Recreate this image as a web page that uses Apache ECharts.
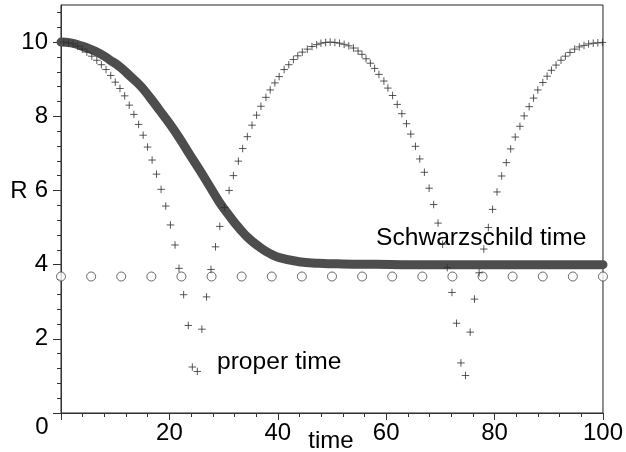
<!DOCTYPE html>
<html>
<head>
<meta charset="utf-8">
<script src="https://cdn.jsdelivr.net/npm/echarts@6/dist/echarts.min.js"></script>
<style>
  html, body { margin: 0; padding: 0; background: #fff; }
  #chart { width: 626px; height: 452px; }
</style>
</head>
<body>
<div id="chart"></div>
<script>
// Schwarzschild time curve (thick line)
const schwT = [0, 1.8, 3.5, 5.4, 7.2, 9.0, 10.9, 12.7, 14.6, 16.4, 18.2, 20.1, 21.9, 23.7, 25.6, 27.4,
  29.2, 31.1, 32.9, 34.7, 36.6, 38.4, 40.3, 43.9, 47.6, 52, 58, 65, 75, 85, 100];
const schwR = [10, 9.98, 9.91, 9.81, 9.69, 9.52, 9.33, 9.09, 8.83, 8.51, 8.16, 7.79, 7.40, 6.98, 6.55, 6.12,
  5.69, 5.31, 4.98, 4.70, 4.48, 4.31, 4.19, 4.08, 4.04, 4.02, 4.01, 4.0, 4.0, 4.0, 4.0];

// proper time points (crosses)
const properT = [0.52, 1.37, 2.22, 3.07, 3.92, 4.77, 5.69, 6.61, 7.45, 8.31,
  9.18, 10.02, 10.88, 11.75, 12.59, 13.45, 14.32, 15.16, 15.97, 16.81,
  17.62, 18.47, 19.33, 20.19, 21.04, 21.77, 22.63, 23.49, 24.23, 25.15,
  25.99, 26.85, 27.68, 28.51, 29.30, 30.16, 31.02, 31.81, 32.73, 33.52,
  34.38, 35.24, 36.09, 36.89, 37.81, 38.60, 39.46, 40.25, 41.17, 42.03,
  42.88, 43.69, 44.53, 45.45, 46.31, 47.17, 47.96, 48.83, 49.67, 50.53,
  51.40, 52.24, 53.10, 53.96, 54.81, 55.54, 56.28, 57.08, 57.87, 58.66,
  59.58, 60.32, 61.18, 62.04, 62.89, 63.75, 64.54, 65.40, 66.19, 67.05,
  67.92, 68.76, 69.57, 70.41, 71.27, 72.14, 72.98, 73.79, 74.63, 75.50,
  76.29, 77.15, 78.01, 78.85, 79.63, 80.45, 81.31, 82.16, 82.97, 83.81,
  84.68, 85.46, 86.38, 87.19, 87.98, 88.90, 89.69, 90.49, 91.34, 92.26,
  93.06, 93.91, 94.77, 95.63, 96.50, 97.35, 98.20, 99.05, 99.90];
const properR = [10.0, 9.98, 9.95, 9.89, 9.81, 9.73, 9.62, 9.51, 9.39, 9.26,
  9.10, 8.92, 8.75, 8.55, 8.30, 8.05, 7.78, 7.49, 7.17, 6.82,
  6.44, 6.03, 5.58, 5.07, 4.53, 3.90, 3.19, 2.36, 1.24, 1.12,
  2.26, 3.13, 3.87, 4.48, 5.03, 5.54, 6.00, 6.40, 6.79, 7.13,
  7.45, 7.76, 8.03, 8.27, 8.51, 8.71, 8.90, 9.07, 9.26, 9.39,
  9.53, 9.63, 9.73, 9.81, 9.88, 9.93, 9.97, 9.99, 10.0, 9.99,
  9.97, 9.94, 9.90, 9.84, 9.76, 9.67, 9.55, 9.43, 9.29, 9.13,
  8.95, 8.76, 8.56, 8.32, 8.07, 7.80, 7.52, 7.19, 6.85, 6.49,
  6.06, 5.62, 5.12, 4.55, 3.92, 3.25, 2.42, 1.35, 1.01, 2.18,
  3.07, 3.78, 4.42, 5.00, 5.49, 5.96, 6.39, 6.75, 7.12, 7.44,
  7.73, 8.01, 8.26, 8.49, 8.71, 8.91, 9.08, 9.24, 9.38, 9.51,
  9.62, 9.72, 9.81, 9.87, 9.91, 9.95, 9.97, 9.98, 9.99];

// horizon markers (circles)
const circleT = [0, 5.56, 11.11, 16.67, 22.22, 27.78, 33.33, 38.89, 44.44, 50,
  55.56, 61.11, 66.67, 72.22, 77.78, 83.33, 88.89, 94.44, 100];
const circleR = [3.68, 3.68, 3.68, 3.68, 3.68, 3.68, 3.68, 3.68, 3.68, 3.68,
  3.68, 3.68, 3.68, 3.68, 3.68, 3.68, 3.68, 3.68, 3.68];

const yLabels = [2, 4, 6, 8, 10];
const yMajorTicks = [0, 2, 4, 6, 8, 10];

const FONT = '"Liberation Sans", Arial, Helvetica, sans-serif';

function pairs(xs, ys) {
    return xs.map((x, i) => [x, ys[i]]);
}

const chart = echarts.init(document.getElementById('chart'), null, { renderer: 'canvas' });

const option = {
    animation: false,
    backgroundColor: '#fff',
    grid: {
        left: 61, right: 20, top: 5, bottom: 39,
        show: true, borderColor: '#222', borderWidth: 1, backgroundColor: 'transparent'
    },
    xAxis: {
        type: 'value', min: 0, max: 100, interval: 20,
        axisLine: { show: true, lineStyle: { color: '#333', width: 1 } },
        axisTick: { show: true, length: 7, lineStyle: { color: '#333' } },
        minorTick: { show: true, splitNumber: 5, length: 4, lineStyle: { color: '#333' } },
        splitLine: { show: false },
        axisLabel: {
            color: '#000', fontSize: 24, fontFamily: FONT, margin: 8,
            formatter: v => (v === 0 ? '' : String(v))
        }
    },
    yAxis: {
        type: 'value', min: 0, max: 11, interval: 2,
        axisLine: { show: true, lineStyle: { color: '#333', width: 1 } },
        axisTick: { show: true, length: 8, customValues: yMajorTicks, lineStyle: { color: '#333' } },
        minorTick: { show: true, splitNumber: 5, length: 4, lineStyle: { color: '#333' } },
        splitLine: { show: false },
        axisLabel: {
            color: '#000', fontSize: 24, fontFamily: FONT, margin: 13,
            customValues: yLabels
        }
    },
    graphic: [
        { type: 'text', x: 42, y: 427, style: { text: '0', fontSize: 24, fontFamily: FONT, fill: '#000', textAlign: 'center', textVerticalAlign: 'middle' } },
        { type: 'text', x: 19, y: 191, style: { text: 'R', fontSize: 24, fontFamily: FONT, fill: '#000', textAlign: 'center', textVerticalAlign: 'middle' } },
        { type: 'text', x: 331, y: 441, style: { text: 'time', fontSize: 24, fontFamily: FONT, fill: '#000', textAlign: 'center', textVerticalAlign: 'middle' } },
        { type: 'text', x: 376, y: 238, style: { text: 'Schwarzschild time', fontSize: 24.6, fontFamily: FONT, fill: '#000', textAlign: 'left', textVerticalAlign: 'middle' } },
        { type: 'text', x: 217, y: 362, style: { text: 'proper time', fontSize: 24.6, fontFamily: FONT, fill: '#000', textAlign: 'left', textVerticalAlign: 'middle' } }
    ],
    series: [
        {
            name: 'Schwarzschild time', type: 'line', smooth: true, showSymbol: false,
            data: pairs(schwT, schwR),
            lineStyle: { color: '#4d4d4d', width: 9, cap: 'round' },
            z: 2
        },
        {
            name: 'horizon', type: 'scatter', symbol: 'circle', symbolSize: 9,
            data: pairs(circleT, circleR),
            itemStyle: { color: '#fff', borderColor: '#444', borderWidth: 1 },
            z: 3
        },
        {
            name: 'proper time', type: 'scatter', symbol: 'path://M0,5L10,5M5,0L5,10', symbolSize: 7.5,
            data: pairs(properT, properR),
            itemStyle: { color: 'none', borderColor: '#2e2e2e', borderWidth: 1 },
            z: 4
        }
    ]
};

chart.setOption(option);
</script>
</body>
</html>
